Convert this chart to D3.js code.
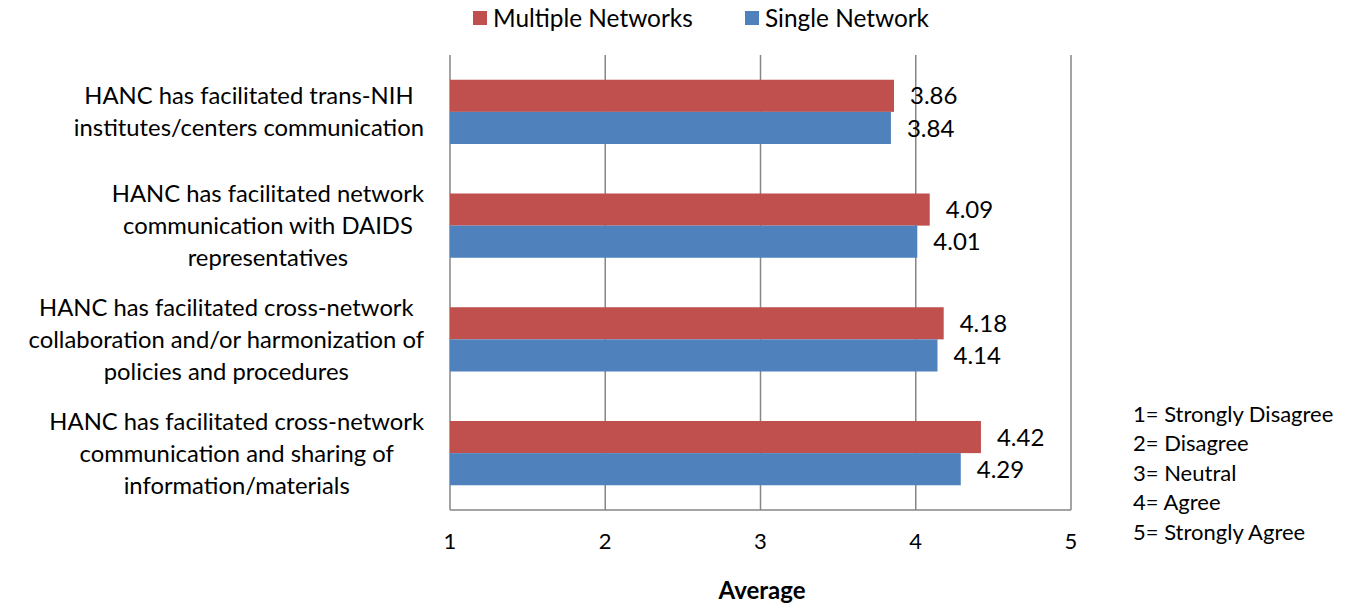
<!DOCTYPE html>
<html>
<head>
<meta charset="utf-8">
<script src="https://cdn.jsdelivr.net/npm/d3@7"></script>
<style>
  body { margin: 0; background: #fff; }
  svg { font-family: Lato, "Open Sans", sans-serif; }
</style>
</head>
<body>
<svg id="chart" width="1350" height="605"></svg>
<script>
// categories top to bottom
const categories = [
    ['HANC has facilitated trans-NIH', 'institutes/centers communication'],
    ['HANC has facilitated network', 'communication with DAIDS', 'representatives'],
    ['HANC has facilitated cross-network', 'collaboration and/or harmonization of', 'policies and procedures'],
    ['HANC has facilitated cross-network', 'communication and sharing of', 'information/materials'],
];
const multipleNetworks = [3.86, 4.09, 4.18, 4.42];
const singleNetwork = [3.84, 4.01, 4.14, 4.29];
const seriesNames = ['Multiple Networks', 'Single Network'];
const xTicks = [1, 2, 3, 4, 5];
const scaleNotes = ['1= Strongly Disagree', '2= Disagree', '3= Neutral', '4= Agree', '5= Strongly Agree'];

const colors = ['#C0504D', '#4F81BD'];
const svg = d3.select('#chart');
const plot = { left: 450, right: 1071, top: 55, bottom: 510 };

const x = d3.scaleLinear().domain([1, 5]).range([plot.left, plot.right]);
const y = d3.scaleBand().domain(d3.range(categories.length))
    .range([plot.top, plot.bottom]).paddingInner(0.435).paddingOuter(0.2175);
const ySub = d3.scaleBand().domain([0, 1]).range([0, y.bandwidth()]);

// gridlines
svg.append('g').selectAll('line')
    .data(xTicks)
    .join('line')
    .attr('x1', (d) => x(d)).attr('x2', (d) => x(d))
    .attr('y1', plot.top).attr('y2', plot.bottom)
    .attr('stroke', '#868686').attr('stroke-width', 1.5);

svg.append('line')
    .attr('x1', plot.left).attr('x2', plot.right)
    .attr('y1', plot.bottom).attr('y2', plot.bottom)
    .attr('stroke', '#868686').attr('stroke-width', 1.5);

// bars
const series = [multipleNetworks, singleNetwork];
series.forEach((vals, s) => {
    const g = svg.append('g');
    g.selectAll('rect')
        .data(vals)
        .join('rect')
        .attr('x', x(1))
        .attr('y', (d, i) => y(i) + ySub(s))
        .attr('width', (d) => x(d) - x(1))
        .attr('height', ySub.bandwidth())
        .attr('fill', colors[s]);
    g.selectAll('text')
        .data(vals)
        .join('text')
        .attr('x', (d) => x(d) + 16)
        .attr('y', (d, i) => y(i) + ySub(s) + ySub.bandwidth() / 2)
        .attr('dy', '0.36em')
        .attr('font-size', 24)
        .attr('fill', '#000')
        .text((d) => d.toFixed(2));
});

// category labels, centred lines inside a right-aligned block
categories.forEach((lines, i) => {
    const g = svg.append('g');
    const cy = y(i) + y.bandwidth() / 2;
    const lh = 32;
    const texts = g.selectAll('text')
        .data(lines)
        .join('text')
        .attr('y', (d, k) => cy + (k - (lines.length - 1) / 2) * lh)
        .attr('dy', '0.36em')
        .attr('font-size', 23.8)
        .attr('text-anchor', 'middle')
        .text((d) => d);
    let maxW = 0;
    texts.each(function () { maxW = Math.max(maxW, this.getComputedTextLength()); });
    texts.attr('x', 424 - maxW / 2);
});

// x tick labels
svg.append('g').selectAll('text')
    .data(xTicks)
    .join('text')
    .attr('x', (d) => x(d))
    .attr('y', 541)
    .attr('dy', '0.36em')
    .attr('text-anchor', 'middle')
    .attr('font-size', 22)
    .text((d) => d);

svg.append('text')
    .attr('x', 762).attr('y', 590).attr('dy', '0.36em')
    .attr('text-anchor', 'middle')
    .attr('font-size', 24).attr('font-weight', 'bold')
    .text('Average');

// legend
const legendX = [473, 745];
seriesNames.forEach((name, s) => {
    svg.append('rect')
        .attr('x', legendX[s]).attr('y', 11)
        .attr('width', 14).attr('height', 14)
        .attr('fill', colors[s]);
    svg.append('text')
        .attr('x', legendX[s] + 20).attr('y', 18).attr('dy', '0.36em')
        .attr('font-size', 24.4)
        .text(name);
});

// scale notes
svg.append('g').selectAll('text')
    .data(scaleNotes)
    .join('text')
    .attr('x', 1133)
    .attr('y', (d, i) => 414 + i * 29.5)
    .attr('dy', '0.36em')
    .attr('font-size', 22)
    .text((d) => d);
</script>
</body>
</html>
